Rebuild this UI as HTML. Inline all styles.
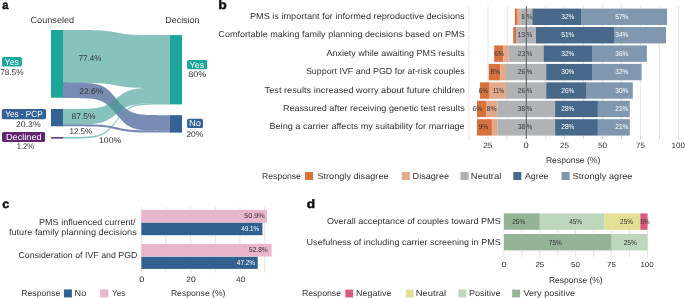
<!DOCTYPE html>
<html><head><meta charset="utf-8"><style>
html,body{margin:0;padding:0;background:#fff;}
svg{display:block;will-change:transform;}
text{font-family:"Liberation Sans", sans-serif;text-rendering:geometricPrecision;}
</style></head><body>
<svg width="685" height="298" viewBox="0 0 685 298">
<rect width="685" height="298" fill="#fff"/>
<text transform="translate(2.35 8.80) scale(0.2500)" font-size="48.00" fill="#111" font-weight="bold" stroke="#111" stroke-width="1.80" textLength="24.40" lengthAdjust="spacingAndGlyphs">a</text>
<text transform="translate(30.50 23.20) scale(0.2500)" font-size="35.20" fill="#333333" font-weight="normal" textLength="174.60" lengthAdjust="spacingAndGlyphs">Counseled</text>
<text transform="translate(165.25 23.20) scale(0.2500)" font-size="35.20" fill="#333333" font-weight="normal" textLength="137.00" lengthAdjust="spacingAndGlyphs">Decision</text>
<g opacity="0.62">
<path d="M62.50,82.61 L63.85,82.61 L65.20,82.62 L66.55,82.62 L67.90,82.62 L69.25,82.63 L70.60,82.64 L71.95,82.64 L73.30,82.65 L74.65,82.67 L76.00,82.68 L77.35,82.70 L78.70,82.72 L80.05,82.75 L81.40,82.78 L82.75,82.82 L84.10,82.87 L85.45,82.92 L86.80,83.00 L88.15,83.08 L89.50,83.19 L90.85,83.31 L92.20,83.47 L93.55,83.65 L94.90,83.88 L96.25,84.15 L97.60,84.47 L98.95,84.85 L100.30,85.31 L101.65,85.85 L103.00,86.49 L104.35,87.22 L105.70,88.08 L107.05,89.05 L108.40,90.15 L109.75,91.37 L111.10,92.71 L112.45,94.15 L113.80,95.68 L115.15,97.28 L116.50,98.90 L117.85,100.52 L119.20,102.12 L120.55,103.65 L121.90,105.09 L123.25,106.43 L124.60,107.65 L125.95,108.75 L127.30,109.72 L128.65,110.58 L130.00,111.31 L131.35,111.95 L132.70,112.49 L134.05,112.95 L135.40,113.33 L136.75,113.65 L138.10,113.92 L139.45,114.15 L140.80,114.33 L142.15,114.49 L143.50,114.61 L144.85,114.72 L146.20,114.80 L147.55,114.88 L148.90,114.93 L150.25,114.98 L151.60,115.02 L152.95,115.05 L154.30,115.08 L155.65,115.10 L157.00,115.12 L158.35,115.13 L159.70,115.15 L161.05,115.16 L162.40,115.16 L163.75,115.17 L165.10,115.18 L166.45,115.18 L167.80,115.18 L169.15,115.19 L170.50,115.19 L170.50,130.69 L169.15,130.69 L167.80,130.68 L166.45,130.68 L165.10,130.68 L163.75,130.67 L162.40,130.66 L161.05,130.66 L159.70,130.65 L158.35,130.63 L157.00,130.62 L155.65,130.60 L154.30,130.58 L152.95,130.55 L151.60,130.52 L150.25,130.48 L148.90,130.43 L147.55,130.37 L146.20,130.30 L144.85,130.22 L143.50,130.11 L142.15,129.98 L140.80,129.83 L139.45,129.64 L138.10,129.42 L136.75,129.15 L135.40,128.83 L134.05,128.44 L132.70,127.98 L131.35,127.44 L130.00,126.80 L128.65,126.06 L127.30,125.21 L125.95,124.23 L124.60,123.13 L123.25,121.91 L121.90,120.56 L120.55,119.11 L119.20,117.58 L117.85,115.98 L116.50,114.35 L115.15,112.72 L113.80,111.12 L112.45,109.59 L111.10,108.14 L109.75,106.79 L108.40,105.57 L107.05,104.47 L105.70,103.49 L104.35,102.64 L103.00,101.90 L101.65,101.26 L100.30,100.72 L98.95,100.26 L97.60,99.87 L96.25,99.55 L94.90,99.28 L93.55,99.06 L92.20,98.87 L90.85,98.72 L89.50,98.59 L88.15,98.48 L86.80,98.40 L85.45,98.33 L84.10,98.27 L82.75,98.22 L81.40,98.18 L80.05,98.15 L78.70,98.12 L77.35,98.10 L76.00,98.08 L74.65,98.07 L73.30,98.05 L71.95,98.04 L70.60,98.04 L69.25,98.03 L67.90,98.02 L66.55,98.02 L65.20,98.02 L63.85,98.01 L62.50,98.01Z" fill="rgb(38,70,134)"/>
<path d="M62.50,124.20 L63.85,124.20 L65.20,124.20 L66.55,124.20 L67.90,124.20 L69.25,124.21 L70.60,124.21 L71.95,124.21 L73.30,124.21 L74.65,124.21 L76.00,124.22 L77.35,124.22 L78.70,124.22 L80.05,124.23 L81.40,124.23 L82.75,124.24 L84.10,124.25 L85.45,124.26 L86.80,124.28 L88.15,124.29 L89.50,124.31 L90.85,124.34 L92.20,124.36 L93.55,124.40 L94.90,124.44 L96.25,124.49 L97.60,124.56 L98.95,124.63 L100.30,124.72 L101.65,124.82 L103.00,124.94 L104.35,125.08 L105.70,125.24 L107.05,125.43 L108.40,125.64 L109.75,125.87 L111.10,126.12 L112.45,126.40 L113.80,126.69 L115.15,126.99 L116.50,127.30 L117.85,127.61 L119.20,127.91 L120.55,128.20 L121.90,128.48 L123.25,128.73 L124.60,128.96 L125.95,129.17 L127.30,129.36 L128.65,129.52 L130.00,129.66 L131.35,129.78 L132.70,129.88 L134.05,129.97 L135.40,130.04 L136.75,130.11 L138.10,130.16 L139.45,130.20 L140.80,130.24 L142.15,130.26 L143.50,130.29 L144.85,130.31 L146.20,130.32 L147.55,130.34 L148.90,130.35 L150.25,130.36 L151.60,130.37 L152.95,130.37 L154.30,130.38 L155.65,130.38 L157.00,130.38 L158.35,130.39 L159.70,130.39 L161.05,130.39 L162.40,130.39 L163.75,130.39 L165.10,130.40 L166.45,130.40 L167.80,130.40 L169.15,130.40 L170.50,130.40 L170.50,132.60 L169.15,132.60 L167.80,132.60 L166.45,132.60 L165.10,132.60 L163.75,132.59 L162.40,132.59 L161.05,132.59 L159.70,132.59 L158.35,132.59 L157.00,132.58 L155.65,132.58 L154.30,132.58 L152.95,132.57 L151.60,132.57 L150.25,132.56 L148.90,132.55 L147.55,132.54 L146.20,132.52 L144.85,132.51 L143.50,132.49 L142.15,132.46 L140.80,132.43 L139.45,132.40 L138.10,132.35 L136.75,132.30 L135.40,132.24 L134.05,132.16 L132.70,132.08 L131.35,131.97 L130.00,131.85 L128.65,131.71 L127.30,131.54 L125.95,131.35 L124.60,131.14 L123.25,130.91 L121.90,130.65 L120.55,130.37 L119.20,130.07 L117.85,129.76 L116.50,129.45 L115.15,129.14 L113.80,128.83 L112.45,128.53 L111.10,128.25 L109.75,127.99 L108.40,127.76 L107.05,127.55 L105.70,127.36 L104.35,127.19 L103.00,127.05 L101.65,126.93 L100.30,126.82 L98.95,126.74 L97.60,126.66 L96.25,126.60 L94.90,126.55 L93.55,126.50 L92.20,126.47 L90.85,126.44 L89.50,126.41 L88.15,126.39 L86.80,126.38 L85.45,126.36 L84.10,126.35 L82.75,126.34 L81.40,126.33 L80.05,126.33 L78.70,126.32 L77.35,126.32 L76.00,126.32 L74.65,126.31 L73.30,126.31 L71.95,126.31 L70.60,126.31 L69.25,126.31 L67.90,126.30 L66.55,126.30 L65.20,126.30 L63.85,126.30 L62.50,126.30Z" fill="rgb(38,70,134)"/>
</g>
<g opacity="0.62">
<path d="M62.50,30.00 L63.85,30.00 L65.20,30.00 L66.55,30.00 L67.90,30.00 L69.25,30.00 L70.60,30.01 L71.95,30.01 L73.30,30.01 L74.65,30.01 L76.00,30.01 L77.35,30.02 L78.70,30.02 L80.05,30.02 L81.40,30.03 L82.75,30.03 L84.10,30.04 L85.45,30.05 L86.80,30.06 L88.15,30.08 L89.50,30.09 L90.85,30.11 L92.20,30.14 L93.55,30.16 L94.90,30.20 L96.25,30.24 L97.60,30.29 L98.95,30.35 L100.30,30.42 L101.65,30.51 L103.00,30.61 L104.35,30.72 L105.70,30.86 L107.05,31.01 L108.40,31.18 L109.75,31.37 L111.10,31.58 L112.45,31.81 L113.80,32.05 L115.15,32.30 L116.50,32.55 L117.85,32.80 L119.20,33.05 L120.55,33.29 L121.90,33.52 L123.25,33.73 L124.60,33.92 L125.95,34.09 L127.30,34.24 L128.65,34.38 L130.00,34.49 L131.35,34.59 L132.70,34.68 L134.05,34.75 L135.40,34.81 L136.75,34.86 L138.10,34.90 L139.45,34.94 L140.80,34.96 L142.15,34.99 L143.50,35.01 L144.85,35.02 L146.20,35.04 L147.55,35.05 L148.90,35.06 L150.25,35.07 L151.60,35.07 L152.95,35.08 L154.30,35.08 L155.65,35.08 L157.00,35.09 L158.35,35.09 L159.70,35.09 L161.05,35.09 L162.40,35.09 L163.75,35.10 L165.10,35.10 L166.45,35.10 L167.80,35.10 L169.15,35.10 L170.50,35.10 L170.50,88.00 L169.15,88.00 L167.80,88.00 L166.45,88.00 L165.10,88.00 L163.75,88.00 L162.40,87.99 L161.05,87.99 L159.70,87.99 L158.35,87.99 L157.00,87.99 L155.65,87.98 L154.30,87.98 L152.95,87.98 L151.60,87.97 L150.25,87.97 L148.90,87.96 L147.55,87.95 L146.20,87.94 L144.85,87.92 L143.50,87.91 L142.15,87.89 L140.80,87.86 L139.45,87.84 L138.10,87.80 L136.75,87.76 L135.40,87.71 L134.05,87.65 L132.70,87.58 L131.35,87.49 L130.00,87.39 L128.65,87.28 L127.30,87.14 L125.95,86.99 L124.60,86.82 L123.25,86.63 L121.90,86.42 L120.55,86.19 L119.20,85.95 L117.85,85.70 L116.50,85.45 L115.15,85.20 L113.80,84.95 L112.45,84.71 L111.10,84.48 L109.75,84.27 L108.40,84.08 L107.05,83.91 L105.70,83.76 L104.35,83.62 L103.00,83.51 L101.65,83.41 L100.30,83.32 L98.95,83.25 L97.60,83.19 L96.25,83.14 L94.90,83.10 L93.55,83.06 L92.20,83.04 L90.85,83.01 L89.50,82.99 L88.15,82.98 L86.80,82.96 L85.45,82.95 L84.10,82.94 L82.75,82.93 L81.40,82.93 L80.05,82.92 L78.70,82.92 L77.35,82.92 L76.00,82.91 L74.65,82.91 L73.30,82.91 L71.95,82.91 L70.60,82.91 L69.25,82.90 L67.90,82.90 L66.55,82.90 L65.20,82.90 L63.85,82.90 L62.50,82.90Z" fill="rgb(63,159,148)"/>
<path d="M62.50,108.99 L63.85,108.99 L65.20,108.99 L66.55,108.99 L67.90,108.98 L69.25,108.98 L70.60,108.98 L71.95,108.97 L73.30,108.96 L74.65,108.96 L76.00,108.95 L77.35,108.94 L78.70,108.92 L80.05,108.90 L81.40,108.88 L82.75,108.86 L84.10,108.83 L85.45,108.79 L86.80,108.74 L88.15,108.69 L89.50,108.62 L90.85,108.53 L92.20,108.43 L93.55,108.31 L94.90,108.17 L96.25,107.99 L97.60,107.78 L98.95,107.53 L100.30,107.23 L101.65,106.88 L103.00,106.46 L104.35,105.98 L105.70,105.42 L107.05,104.79 L108.40,104.07 L109.75,103.27 L111.10,102.40 L112.45,101.45 L113.80,100.45 L115.15,99.41 L116.50,98.35 L117.85,97.29 L119.20,96.25 L120.55,95.25 L121.90,94.30 L123.25,93.43 L124.60,92.63 L125.95,91.91 L127.30,91.28 L128.65,90.72 L130.00,90.24 L131.35,89.82 L132.70,89.47 L134.05,89.17 L135.40,88.92 L136.75,88.71 L138.10,88.53 L139.45,88.39 L140.80,88.27 L142.15,88.17 L143.50,88.08 L144.85,88.01 L146.20,87.96 L147.55,87.91 L148.90,87.87 L150.25,87.84 L151.60,87.82 L152.95,87.80 L154.30,87.78 L155.65,87.76 L157.00,87.75 L158.35,87.74 L159.70,87.74 L161.05,87.73 L162.40,87.72 L163.75,87.72 L165.10,87.72 L166.45,87.71 L167.80,87.71 L169.15,87.71 L170.50,87.71 L170.50,103.21 L169.15,103.21 L167.80,103.21 L166.45,103.21 L165.10,103.22 L163.75,103.22 L162.40,103.22 L161.05,103.23 L159.70,103.24 L158.35,103.24 L157.00,103.25 L155.65,103.26 L154.30,103.28 L152.95,103.30 L151.60,103.32 L150.25,103.34 L148.90,103.37 L147.55,103.41 L146.20,103.46 L144.85,103.51 L143.50,103.58 L142.15,103.67 L140.80,103.77 L139.45,103.89 L138.10,104.03 L136.75,104.21 L135.40,104.42 L134.05,104.67 L132.70,104.97 L131.35,105.32 L130.00,105.74 L128.65,106.22 L127.30,106.78 L125.95,107.41 L124.60,108.13 L123.25,108.93 L121.90,109.80 L120.55,110.75 L119.20,111.75 L117.85,112.79 L116.50,113.85 L115.15,114.91 L113.80,115.95 L112.45,116.95 L111.10,117.90 L109.75,118.77 L108.40,119.57 L107.05,120.29 L105.70,120.92 L104.35,121.48 L103.00,121.96 L101.65,122.38 L100.30,122.73 L98.95,123.03 L97.60,123.28 L96.25,123.49 L94.90,123.67 L93.55,123.81 L92.20,123.93 L90.85,124.03 L89.50,124.12 L88.15,124.19 L86.80,124.24 L85.45,124.29 L84.10,124.33 L82.75,124.36 L81.40,124.38 L80.05,124.40 L78.70,124.42 L77.35,124.44 L76.00,124.45 L74.65,124.46 L73.30,124.46 L71.95,124.47 L70.60,124.48 L69.25,124.48 L67.90,124.48 L66.55,124.49 L65.20,124.49 L63.85,124.49 L62.50,124.49Z" fill="rgb(63,159,148)"/>
<path d="M62.50,137.09 L63.85,137.09 L65.20,137.08 L66.55,137.08 L67.90,137.07 L69.25,137.07 L70.60,137.06 L71.95,137.05 L73.30,137.04 L74.65,137.03 L76.00,137.02 L77.35,137.00 L78.70,136.97 L80.05,136.95 L81.40,136.91 L82.75,136.87 L84.10,136.82 L85.45,136.76 L86.80,136.69 L88.15,136.59 L89.50,136.48 L90.85,136.35 L92.20,136.19 L93.55,136.00 L94.90,135.76 L96.25,135.48 L97.60,135.14 L98.95,134.74 L100.30,134.26 L101.65,133.69 L103.00,133.02 L104.35,132.25 L105.70,131.36 L107.05,130.33 L108.40,129.18 L109.75,127.90 L111.10,126.50 L112.45,124.98 L113.80,123.38 L115.15,121.70 L116.50,120.00 L117.85,118.30 L119.20,116.62 L120.55,115.02 L121.90,113.50 L123.25,112.10 L124.60,110.82 L125.95,109.67 L127.30,108.64 L128.65,107.75 L130.00,106.98 L131.35,106.31 L132.70,105.74 L134.05,105.26 L135.40,104.86 L136.75,104.52 L138.10,104.24 L139.45,104.00 L140.80,103.81 L142.15,103.65 L143.50,103.52 L144.85,103.41 L146.20,103.31 L147.55,103.24 L148.90,103.18 L150.25,103.13 L151.60,103.09 L152.95,103.05 L154.30,103.03 L155.65,103.00 L157.00,102.98 L158.35,102.97 L159.70,102.96 L161.05,102.95 L162.40,102.94 L163.75,102.93 L165.10,102.93 L166.45,102.92 L167.80,102.92 L169.15,102.91 L170.50,102.91 L170.50,104.41 L169.15,104.41 L167.80,104.42 L166.45,104.42 L165.10,104.43 L163.75,104.43 L162.40,104.44 L161.05,104.45 L159.70,104.46 L158.35,104.47 L157.00,104.48 L155.65,104.50 L154.30,104.53 L152.95,104.55 L151.60,104.59 L150.25,104.63 L148.90,104.68 L147.55,104.74 L146.20,104.81 L144.85,104.91 L143.50,105.02 L142.15,105.15 L140.80,105.31 L139.45,105.50 L138.10,105.74 L136.75,106.02 L135.40,106.36 L134.05,106.76 L132.70,107.24 L131.35,107.81 L130.00,108.48 L128.65,109.25 L127.30,110.14 L125.95,111.17 L124.60,112.32 L123.25,113.60 L121.90,115.00 L120.55,116.52 L119.20,118.12 L117.85,119.80 L116.50,121.50 L115.15,123.20 L113.80,124.88 L112.45,126.48 L111.10,128.00 L109.75,129.40 L108.40,130.68 L107.05,131.83 L105.70,132.86 L104.35,133.75 L103.00,134.52 L101.65,135.19 L100.30,135.76 L98.95,136.24 L97.60,136.64 L96.25,136.98 L94.90,137.26 L93.55,137.50 L92.20,137.69 L90.85,137.85 L89.50,137.98 L88.15,138.09 L86.80,138.19 L85.45,138.26 L84.10,138.32 L82.75,138.37 L81.40,138.41 L80.05,138.45 L78.70,138.47 L77.35,138.50 L76.00,138.52 L74.65,138.53 L73.30,138.54 L71.95,138.55 L70.60,138.56 L69.25,138.57 L67.90,138.57 L66.55,138.58 L65.20,138.58 L63.85,138.59 L62.50,138.59Z" fill="rgb(63,159,148)"/>
</g>
<rect x="51.00" y="30.00" width="12.00" height="67.70" fill="#1ca59b" />
<rect x="51.00" y="109.00" width="12.00" height="17.30" fill="#346294" />
<rect x="51.00" y="137.10" width="12.00" height="1.50" fill="#622670" />
<rect x="170.00" y="35.10" width="12.00" height="69.30" fill="#1ca59b" />
<rect x="170.00" y="115.20" width="12.00" height="17.40" fill="#346294" />
<rect x="2" y="57.0" width="19.90" height="9.40" rx="1.7" fill="#1ca59b"/>
<text transform="translate(4.60 64.60) scale(0.2500)" font-size="35.20" fill="#fff" font-weight="normal" textLength="57.20" lengthAdjust="spacingAndGlyphs">Yes</text>
<text transform="translate(0.15 75.00) scale(0.2500)" font-size="32.80" fill="#333333" font-weight="normal" textLength="93.60" lengthAdjust="spacingAndGlyphs">78.5%</text>
<rect x="1.8" y="108.9" width="44.20" height="10.40" rx="1.7" fill="#346294"/>
<text transform="translate(5.25 116.90) scale(0.2500)" font-size="35.20" fill="#fff" font-weight="normal" textLength="149.80" lengthAdjust="spacingAndGlyphs">Yes - PCP</text>
<text transform="translate(16.00 126.70) scale(0.2500)" font-size="32.80" fill="#333333" font-weight="normal" textLength="98.80" lengthAdjust="spacingAndGlyphs">20.3%</text>
<rect x="2" y="131.9" width="43.10" height="10.00" rx="1.7" fill="#622670"/>
<text transform="translate(5.95 139.70) scale(0.2500)" font-size="35.20" fill="#fff" font-weight="normal" textLength="142.80" lengthAdjust="spacingAndGlyphs">Declined</text>
<text transform="translate(16.70 148.50) scale(0.2500)" font-size="32.80" fill="#333333" font-weight="normal" textLength="70.00" lengthAdjust="spacingAndGlyphs">1.2%</text>
<rect x="187.1" y="59.9" width="20.00" height="9.30" rx="1.7" fill="#1ca59b"/>
<text transform="translate(189.60 67.50) scale(0.2500)" font-size="35.20" fill="#fff" font-weight="normal" textLength="58.60" lengthAdjust="spacingAndGlyphs">Yes</text>
<text transform="translate(188.30 77.40) scale(0.2500)" font-size="32.80" fill="#333333" font-weight="normal" textLength="72.20" lengthAdjust="spacingAndGlyphs">80%</text>
<rect x="187.1" y="118.80000000000001" width="15.90" height="9.30" rx="1.7" fill="#346294"/>
<text transform="translate(189.10 126.00) scale(0.2500)" font-size="35.20" fill="#fff" font-weight="normal" textLength="47.60" lengthAdjust="spacingAndGlyphs">No</text>
<text transform="translate(186.45 137.30) scale(0.2500)" font-size="32.80" fill="#333333" font-weight="normal" textLength="67.20" lengthAdjust="spacingAndGlyphs">20%</text>
<text transform="translate(78.45 61.40) scale(0.2500)" font-size="32.80" fill="#333333" font-weight="normal" textLength="91.80" lengthAdjust="spacingAndGlyphs">77.4%</text>
<text transform="translate(79.15 93.90) scale(0.2500)" font-size="32.80" fill="#333333" font-weight="normal" textLength="97.00" lengthAdjust="spacingAndGlyphs">22.6%</text>
<text transform="translate(71.45 119.40) scale(0.2500)" font-size="32.80" fill="#333333" font-weight="normal" textLength="96.40" lengthAdjust="spacingAndGlyphs">87.5%</text>
<text transform="translate(69.40 133.50) scale(0.2500)" font-size="32.80" fill="#333333" font-weight="normal" textLength="91.40" lengthAdjust="spacingAndGlyphs">12.5%</text>
<text transform="translate(98.90 142.70) scale(0.2500)" font-size="32.80" fill="#333333" font-weight="normal" textLength="89.80" lengthAdjust="spacingAndGlyphs">100%</text>
<text transform="translate(218.35 9.10) scale(0.2500)" font-size="48.00" fill="#111" font-weight="bold" stroke="#111" stroke-width="1.80" textLength="34.00" lengthAdjust="spacingAndGlyphs">b</text>
<line x1="468.80" y1="6.00" x2="468.80" y2="136.50" stroke="#e6e6e6" stroke-width="1"/>
<line x1="468.80" y1="136.50" x2="468.80" y2="139.00" stroke="#d0d0d0" stroke-width="1"/>
<line x1="488.00" y1="6.00" x2="488.00" y2="136.50" stroke="#e6e6e6" stroke-width="1"/>
<line x1="488.00" y1="136.50" x2="488.00" y2="139.00" stroke="#d0d0d0" stroke-width="1"/>
<line x1="507.30" y1="6.00" x2="507.30" y2="136.50" stroke="#e6e6e6" stroke-width="1"/>
<line x1="507.30" y1="136.50" x2="507.30" y2="139.00" stroke="#d0d0d0" stroke-width="1"/>
<line x1="545.40" y1="6.00" x2="545.40" y2="136.50" stroke="#e6e6e6" stroke-width="1"/>
<line x1="545.40" y1="136.50" x2="545.40" y2="139.00" stroke="#d0d0d0" stroke-width="1"/>
<line x1="564.50" y1="6.00" x2="564.50" y2="136.50" stroke="#e6e6e6" stroke-width="1"/>
<line x1="564.50" y1="136.50" x2="564.50" y2="139.00" stroke="#d0d0d0" stroke-width="1"/>
<line x1="583.50" y1="6.00" x2="583.50" y2="136.50" stroke="#e6e6e6" stroke-width="1"/>
<line x1="583.50" y1="136.50" x2="583.50" y2="139.00" stroke="#d0d0d0" stroke-width="1"/>
<line x1="602.50" y1="6.00" x2="602.50" y2="136.50" stroke="#e6e6e6" stroke-width="1"/>
<line x1="602.50" y1="136.50" x2="602.50" y2="139.00" stroke="#d0d0d0" stroke-width="1"/>
<line x1="621.50" y1="6.00" x2="621.50" y2="136.50" stroke="#e6e6e6" stroke-width="1"/>
<line x1="621.50" y1="136.50" x2="621.50" y2="139.00" stroke="#d0d0d0" stroke-width="1"/>
<line x1="640.60" y1="6.00" x2="640.60" y2="136.50" stroke="#e6e6e6" stroke-width="1"/>
<line x1="640.60" y1="136.50" x2="640.60" y2="139.00" stroke="#d0d0d0" stroke-width="1"/>
<line x1="659.50" y1="6.00" x2="659.50" y2="136.50" stroke="#e6e6e6" stroke-width="1"/>
<line x1="659.50" y1="136.50" x2="659.50" y2="139.00" stroke="#d0d0d0" stroke-width="1"/>
<line x1="678.60" y1="6.00" x2="678.60" y2="136.50" stroke="#e6e6e6" stroke-width="1"/>
<line x1="678.60" y1="136.50" x2="678.60" y2="139.00" stroke="#d0d0d0" stroke-width="1"/>
<rect x="514.90" y="8.60" width="2.10" height="16.40" fill="#d9713e" />
<rect x="517.00" y="8.60" width="3.30" height="16.40" fill="#e2aa8b" />
<rect x="520.30" y="8.60" width="12.00" height="16.40" fill="#b1b2b4" />
<rect x="532.30" y="8.60" width="48.70" height="16.40" fill="#476889" />
<rect x="581.00" y="8.60" width="86.10" height="16.40" fill="#7f98b0" />
<rect x="513.20" y="27.03" width="2.90" height="16.40" fill="#d9713e" />
<rect x="516.10" y="27.03" width="19.90" height="16.40" fill="#b1b2b4" />
<rect x="536.00" y="27.03" width="78.00" height="16.40" fill="#476889" />
<rect x="614.00" y="27.03" width="52.00" height="16.40" fill="#7f98b0" />
<rect x="494.20" y="45.46" width="9.10" height="16.40" fill="#d9713e" />
<rect x="503.30" y="45.46" width="5.50" height="16.40" fill="#e2aa8b" />
<rect x="508.80" y="45.46" width="34.80" height="16.40" fill="#b1b2b4" />
<rect x="543.60" y="45.46" width="48.40" height="16.40" fill="#476889" />
<rect x="592.00" y="45.46" width="54.90" height="16.40" fill="#7f98b0" />
<rect x="488.70" y="63.89" width="11.50" height="16.40" fill="#d9713e" />
<rect x="500.20" y="63.89" width="5.80" height="16.40" fill="#e2aa8b" />
<rect x="506.00" y="63.89" width="40.20" height="16.40" fill="#b1b2b4" />
<rect x="546.20" y="63.89" width="45.80" height="16.40" fill="#476889" />
<rect x="592.00" y="63.89" width="49.60" height="16.40" fill="#7f98b0" />
<rect x="479.90" y="82.32" width="9.10" height="16.40" fill="#d9713e" />
<rect x="489.00" y="82.32" width="17.00" height="16.40" fill="#e2aa8b" />
<rect x="506.00" y="82.32" width="40.20" height="16.40" fill="#b1b2b4" />
<rect x="546.20" y="82.32" width="40.50" height="16.40" fill="#476889" />
<rect x="586.70" y="82.32" width="46.10" height="16.40" fill="#7f98b0" />
<rect x="477.00" y="100.75" width="9.00" height="16.40" fill="#d9713e" />
<rect x="486.00" y="100.75" width="11.30" height="16.40" fill="#e2aa8b" />
<rect x="497.30" y="100.75" width="57.80" height="16.40" fill="#b1b2b4" />
<rect x="555.10" y="100.75" width="42.80" height="16.40" fill="#476889" />
<rect x="597.90" y="100.75" width="31.90" height="16.40" fill="#7f98b0" />
<rect x="477.00" y="119.18" width="14.90" height="16.40" fill="#d9713e" />
<rect x="491.90" y="119.18" width="5.40" height="16.40" fill="#e2aa8b" />
<rect x="497.30" y="119.18" width="57.80" height="16.40" fill="#b1b2b4" />
<rect x="555.10" y="119.18" width="42.80" height="16.40" fill="#476889" />
<rect x="597.90" y="119.18" width="31.90" height="16.40" fill="#7f98b0" />
<text transform="translate(249.90 18.80) scale(0.2500)" font-size="34.40" fill="#333333" font-weight="normal" textLength="859.20" lengthAdjust="spacingAndGlyphs">PMS is important for informed reproductive decisions</text>
<text transform="translate(218.35 37.23) scale(0.2500)" font-size="34.40" fill="#333333" font-weight="normal" textLength="985.40" lengthAdjust="spacingAndGlyphs">Comfortable making family planning decisions based on PMS</text>
<text transform="translate(326.50 55.66) scale(0.2500)" font-size="34.40" fill="#333333" font-weight="normal" textLength="552.80" lengthAdjust="spacingAndGlyphs">Anxiety while awaiting PMS results</text>
<text transform="translate(305.95 74.09) scale(0.2500)" font-size="34.40" fill="#333333" font-weight="normal" textLength="635.00" lengthAdjust="spacingAndGlyphs">Support IVF and PGD for at-risk couples</text>
<text transform="translate(264.60 92.52) scale(0.2500)" font-size="34.40" fill="#333333" font-weight="normal" textLength="801.40" lengthAdjust="spacingAndGlyphs">Test results increased worry about future children</text>
<text transform="translate(282.90 110.95) scale(0.2500)" font-size="34.40" fill="#333333" font-weight="normal" textLength="727.20" lengthAdjust="spacingAndGlyphs">Reassured after receiving genetic test results</text>
<text transform="translate(269.45 129.38) scale(0.2500)" font-size="34.40" fill="#333333" font-weight="normal" textLength="781.00" lengthAdjust="spacingAndGlyphs">Being a carrier affects my suitability for marriage</text>
<text transform="translate(521.40 18.85) scale(0.2500)" font-size="28.80" fill="#333333" font-weight="normal" textLength="12.20" lengthAdjust="spacingAndGlyphs">8</text>
<text transform="translate(526.75 18.85) scale(0.2500)" font-size="28.80" fill="#333333" font-weight="normal" textLength="22.00" lengthAdjust="spacingAndGlyphs">%</text>
<text transform="translate(561.30 18.85) scale(0.2500)" font-size="28.80" fill="#fff" font-weight="normal" textLength="52.60" lengthAdjust="spacingAndGlyphs">32%</text>
<text transform="translate(615.30 18.85) scale(0.2500)" font-size="28.80" fill="#fff" font-weight="normal" textLength="52.60" lengthAdjust="spacingAndGlyphs">57%</text>
<text transform="translate(517.50 37.28) scale(0.2500)" font-size="28.80" fill="#333333" font-weight="normal" textLength="30.40" lengthAdjust="spacingAndGlyphs">13</text>
<text transform="translate(526.75 37.28) scale(0.2500)" font-size="28.80" fill="#333333" font-weight="normal" textLength="22.00" lengthAdjust="spacingAndGlyphs">%</text>
<text transform="translate(561.30 37.28) scale(0.2500)" font-size="28.80" fill="#fff" font-weight="normal" textLength="52.60" lengthAdjust="spacingAndGlyphs">51%</text>
<text transform="translate(615.30 37.28) scale(0.2500)" font-size="28.80" fill="#fff" font-weight="normal" textLength="52.60" lengthAdjust="spacingAndGlyphs">34%</text>
<text transform="translate(517.75 55.71) scale(0.2500)" font-size="28.80" fill="#333333" font-weight="normal" textLength="29.40" lengthAdjust="spacingAndGlyphs">23</text>
<text transform="translate(526.75 55.71) scale(0.2500)" font-size="28.80" fill="#333333" font-weight="normal" textLength="22.00" lengthAdjust="spacingAndGlyphs">%</text>
<text transform="translate(561.30 55.71) scale(0.2500)" font-size="28.80" fill="#fff" font-weight="normal" textLength="52.60" lengthAdjust="spacingAndGlyphs">32%</text>
<text transform="translate(615.30 55.71) scale(0.2500)" font-size="28.80" fill="#fff" font-weight="normal" textLength="52.60" lengthAdjust="spacingAndGlyphs">36%</text>
<text transform="translate(494.25 55.71) scale(0.2500)" font-size="28.80" fill="#333333" font-weight="normal" textLength="38.00" lengthAdjust="spacingAndGlyphs">6%</text>
<text transform="translate(517.75 74.14) scale(0.2500)" font-size="28.80" fill="#333333" font-weight="normal" textLength="29.40" lengthAdjust="spacingAndGlyphs">26</text>
<text transform="translate(526.75 74.14) scale(0.2500)" font-size="28.80" fill="#333333" font-weight="normal" textLength="22.00" lengthAdjust="spacingAndGlyphs">%</text>
<text transform="translate(561.30 74.14) scale(0.2500)" font-size="28.80" fill="#fff" font-weight="normal" textLength="52.60" lengthAdjust="spacingAndGlyphs">30%</text>
<text transform="translate(615.30 74.14) scale(0.2500)" font-size="28.80" fill="#fff" font-weight="normal" textLength="52.60" lengthAdjust="spacingAndGlyphs">32%</text>
<text transform="translate(490.60 74.14) scale(0.2500)" font-size="28.80" fill="#333333" font-weight="normal" textLength="38.00" lengthAdjust="spacingAndGlyphs">8%</text>
<text transform="translate(517.75 92.57) scale(0.2500)" font-size="28.80" fill="#333333" font-weight="normal" textLength="29.40" lengthAdjust="spacingAndGlyphs">26</text>
<text transform="translate(526.75 92.57) scale(0.2500)" font-size="28.80" fill="#333333" font-weight="normal" textLength="22.00" lengthAdjust="spacingAndGlyphs">%</text>
<text transform="translate(561.30 92.57) scale(0.2500)" font-size="28.80" fill="#fff" font-weight="normal" textLength="52.60" lengthAdjust="spacingAndGlyphs">26%</text>
<text transform="translate(615.30 92.57) scale(0.2500)" font-size="28.80" fill="#fff" font-weight="normal" textLength="52.60" lengthAdjust="spacingAndGlyphs">30%</text>
<text transform="translate(478.60 92.57) scale(0.2500)" font-size="28.80" fill="#333333" font-weight="normal" textLength="38.00" lengthAdjust="spacingAndGlyphs">6%</text>
<text transform="translate(492.90 92.57) scale(0.2500)" font-size="28.80" fill="#333333" font-weight="normal" textLength="45.00" lengthAdjust="spacingAndGlyphs">11%</text>
<text transform="translate(517.75 111.00) scale(0.2500)" font-size="28.80" fill="#333333" font-weight="normal" textLength="29.40" lengthAdjust="spacingAndGlyphs">38</text>
<text transform="translate(526.75 111.00) scale(0.2500)" font-size="28.80" fill="#333333" font-weight="normal" textLength="22.00" lengthAdjust="spacingAndGlyphs">%</text>
<text transform="translate(561.30 111.00) scale(0.2500)" font-size="28.80" fill="#fff" font-weight="normal" textLength="52.60" lengthAdjust="spacingAndGlyphs">28%</text>
<text transform="translate(615.30 111.00) scale(0.2500)" font-size="28.80" fill="#fff" font-weight="normal" textLength="52.60" lengthAdjust="spacingAndGlyphs">21%</text>
<text transform="translate(472.60 111.00) scale(0.2500)" font-size="28.80" fill="#333333" font-weight="normal" textLength="38.00" lengthAdjust="spacingAndGlyphs">6%</text>
<text transform="translate(486.80 111.00) scale(0.2500)" font-size="28.80" fill="#333333" font-weight="normal" textLength="39.00" lengthAdjust="spacingAndGlyphs">8%</text>
<text transform="translate(517.75 129.43) scale(0.2500)" font-size="28.80" fill="#333333" font-weight="normal" textLength="29.40" lengthAdjust="spacingAndGlyphs">38</text>
<text transform="translate(526.75 129.43) scale(0.2500)" font-size="28.80" fill="#333333" font-weight="normal" textLength="22.00" lengthAdjust="spacingAndGlyphs">%</text>
<text transform="translate(561.30 129.43) scale(0.2500)" font-size="28.80" fill="#fff" font-weight="normal" textLength="52.60" lengthAdjust="spacingAndGlyphs">28%</text>
<text transform="translate(615.30 129.43) scale(0.2500)" font-size="28.80" fill="#fff" font-weight="normal" textLength="52.60" lengthAdjust="spacingAndGlyphs">21%</text>
<text transform="translate(478.45 129.43) scale(0.2500)" font-size="28.80" fill="#333333" font-weight="normal" textLength="39.00" lengthAdjust="spacingAndGlyphs">9%</text>
<line x1="526.30" y1="6.00" x2="526.30" y2="139.00" stroke="#5a5a5a" stroke-width="1"/>
<text transform="translate(262.10 178.80) scale(0.2500)" font-size="34.40" fill="#333333" font-weight="normal" textLength="155.20" lengthAdjust="spacingAndGlyphs">Response</text>
<rect x="305.10" y="172.00" width="8.00" height="8.00" fill="#d9713e" />
<text transform="translate(317.45 178.80) scale(0.2500)" font-size="34.40" fill="#333333" font-weight="normal" textLength="284.40" lengthAdjust="spacingAndGlyphs">Strongly disagree</text>
<rect x="401.90" y="172.00" width="8.00" height="8.00" fill="#e2aa8b" />
<text transform="translate(412.60 178.80) scale(0.2500)" font-size="34.40" fill="#333333" font-weight="normal" textLength="145.60" lengthAdjust="spacingAndGlyphs">Disagree</text>
<rect x="460.50" y="172.00" width="8.00" height="8.00" fill="#b1b2b4" />
<text transform="translate(470.75 178.80) scale(0.2500)" font-size="34.40" fill="#333333" font-weight="normal" textLength="122.80" lengthAdjust="spacingAndGlyphs">Neutral</text>
<rect x="513.30" y="172.00" width="8.00" height="8.00" fill="#476889" />
<text transform="translate(524.90 178.80) scale(0.2500)" font-size="34.40" fill="#333333" font-weight="normal" textLength="94.40" lengthAdjust="spacingAndGlyphs">Agree</text>
<rect x="561.60" y="172.00" width="8.00" height="8.00" fill="#7f98b0" />
<text transform="translate(572.50 178.80) scale(0.2500)" font-size="34.40" fill="#333333" font-weight="normal" textLength="240.00" lengthAdjust="spacingAndGlyphs">Strongly agree</text>
<text transform="translate(483.25 147.90) scale(0.2500)" font-size="31.20" fill="#333333" font-weight="normal" textLength="36.80" lengthAdjust="spacingAndGlyphs">25</text>
<text transform="translate(523.40 147.90) scale(0.2500)" font-size="31.20" fill="#333333" font-weight="normal" textLength="20.80" lengthAdjust="spacingAndGlyphs">0</text>
<text transform="translate(560.05 147.90) scale(0.2500)" font-size="31.20" fill="#333333" font-weight="normal" textLength="35.80" lengthAdjust="spacingAndGlyphs">25</text>
<text transform="translate(597.90 147.90) scale(0.2500)" font-size="31.20" fill="#333333" font-weight="normal" textLength="36.80" lengthAdjust="spacingAndGlyphs">50</text>
<text transform="translate(636.05 147.90) scale(0.2500)" font-size="31.20" fill="#333333" font-weight="normal" textLength="35.80" lengthAdjust="spacingAndGlyphs">75</text>
<text transform="translate(671.50 147.90) scale(0.2500)" font-size="31.20" fill="#333333" font-weight="normal" textLength="53.60" lengthAdjust="spacingAndGlyphs">100</text>
<text transform="translate(545.90 162.70) scale(0.2500)" font-size="34.40" fill="#333333" font-weight="normal" textLength="217.80" lengthAdjust="spacingAndGlyphs">Response (%)</text>
<text transform="translate(2.25 208.30) scale(0.2500)" font-size="48.00" fill="#111" font-weight="bold" stroke="#111" stroke-width="1.80" textLength="28.20" lengthAdjust="spacingAndGlyphs">c</text>
<line x1="141.40" y1="206.60" x2="141.40" y2="272.30" stroke="#e6e6e6" stroke-width="1"/>
<line x1="166.05" y1="206.60" x2="166.05" y2="272.30" stroke="#e6e6e6" stroke-width="1"/>
<line x1="190.70" y1="206.60" x2="190.70" y2="272.30" stroke="#e6e6e6" stroke-width="1"/>
<line x1="215.35" y1="206.60" x2="215.35" y2="272.30" stroke="#e6e6e6" stroke-width="1"/>
<line x1="240.00" y1="206.60" x2="240.00" y2="272.30" stroke="#e6e6e6" stroke-width="1"/>
<line x1="264.65" y1="206.60" x2="264.65" y2="272.30" stroke="#e6e6e6" stroke-width="1"/>
<rect x="141.40" y="209.90" width="125.47" height="12.80" fill="#e9b5ca" />
<rect x="141.40" y="222.80" width="121.03" height="12.40" fill="#32618f" />
<rect x="141.40" y="243.90" width="130.15" height="12.60" fill="#e9b5ca" />
<rect x="141.40" y="256.80" width="116.35" height="12.10" fill="#32618f" />
<text transform="translate(244.15 218.10) scale(0.2500)" font-size="28.80" fill="#333333" font-weight="normal" textLength="81.60" lengthAdjust="spacingAndGlyphs">50.9%</text>
<text transform="translate(241.25 231.00) scale(0.2500)" font-size="28.80" fill="#fff" font-weight="normal" textLength="72.00" lengthAdjust="spacingAndGlyphs">49.1%</text>
<text transform="translate(248.95 252.20) scale(0.2500)" font-size="28.80" fill="#333333" font-weight="normal" textLength="75.20" lengthAdjust="spacingAndGlyphs">52.8%</text>
<text transform="translate(236.85 265.00) scale(0.2500)" font-size="28.80" fill="#fff" font-weight="normal" textLength="72.40" lengthAdjust="spacingAndGlyphs">47.2%</text>
<text transform="translate(39.05 225.00) scale(0.2500)" font-size="34.40" fill="#333333" font-weight="normal" textLength="385.60" lengthAdjust="spacingAndGlyphs">PMS influenced current/</text>
<text transform="translate(8.90 234.90) scale(0.2500)" font-size="34.40" fill="#333333" font-weight="normal" textLength="511.40" lengthAdjust="spacingAndGlyphs">future family planning decisions</text>
<text transform="translate(18.45 257.90) scale(0.2500)" font-size="34.40" fill="#333333" font-weight="normal" textLength="475.60" lengthAdjust="spacingAndGlyphs">Consideration of IVF and PGD</text>
<text transform="translate(139.30 282.00) scale(0.2500)" font-size="31.20" fill="#333333" font-weight="normal" textLength="20.40" lengthAdjust="spacingAndGlyphs">0</text>
<text transform="translate(186.30 282.00) scale(0.2500)" font-size="31.20" fill="#333333" font-weight="normal" textLength="38.20" lengthAdjust="spacingAndGlyphs">20</text>
<text transform="translate(236.05 282.00) scale(0.2500)" font-size="31.20" fill="#333333" font-weight="normal" textLength="36.80" lengthAdjust="spacingAndGlyphs">40</text>
<text transform="translate(170.90 296.00) scale(0.2500)" font-size="34.40" fill="#333333" font-weight="normal" textLength="218.20" lengthAdjust="spacingAndGlyphs">Response (%)</text>
<text transform="translate(21.20 296.00) scale(0.2500)" font-size="34.40" fill="#333333" font-weight="normal" textLength="156.80" lengthAdjust="spacingAndGlyphs">Response</text>
<rect x="63.90" y="289.40" width="8.00" height="8.00" fill="#32618f" />
<text transform="translate(74.55 296.00) scale(0.2500)" font-size="34.40" fill="#333333" font-weight="normal" textLength="46.60" lengthAdjust="spacingAndGlyphs">No</text>
<rect x="100.10" y="289.40" width="8.20" height="8.00" fill="#e9b5ca" />
<text transform="translate(112.10 296.00) scale(0.2500)" font-size="34.40" fill="#333333" font-weight="normal" textLength="53.20" lengthAdjust="spacingAndGlyphs">Yes</text>
<text transform="translate(306.75 208.30) scale(0.2500)" font-size="48.00" fill="#111" font-weight="bold" stroke="#111" stroke-width="1.80" textLength="33.40" lengthAdjust="spacingAndGlyphs">d</text>
<line x1="503.90" y1="213.40" x2="503.90" y2="257.50" stroke="#e6e6e6" stroke-width="1"/>
<line x1="521.85" y1="213.40" x2="521.85" y2="257.50" stroke="#e6e6e6" stroke-width="1"/>
<line x1="539.80" y1="213.40" x2="539.80" y2="257.50" stroke="#e6e6e6" stroke-width="1"/>
<line x1="557.75" y1="213.40" x2="557.75" y2="257.50" stroke="#e6e6e6" stroke-width="1"/>
<line x1="575.70" y1="213.40" x2="575.70" y2="257.50" stroke="#e6e6e6" stroke-width="1"/>
<line x1="593.65" y1="213.40" x2="593.65" y2="257.50" stroke="#e6e6e6" stroke-width="1"/>
<line x1="611.60" y1="213.40" x2="611.60" y2="257.50" stroke="#e6e6e6" stroke-width="1"/>
<line x1="629.55" y1="213.40" x2="629.55" y2="257.50" stroke="#e6e6e6" stroke-width="1"/>
<line x1="647.50" y1="213.40" x2="647.50" y2="257.50" stroke="#e6e6e6" stroke-width="1"/>
<rect x="503.90" y="213.40" width="35.90" height="16.40" fill="#94b495" />
<rect x="539.80" y="213.40" width="64.62" height="16.40" fill="#bcd7bb" />
<rect x="604.42" y="213.40" width="35.90" height="16.40" fill="#e3df95" />
<rect x="640.32" y="213.40" width="7.18" height="16.40" fill="#d95a7c" />
<rect x="503.90" y="234.00" width="107.70" height="16.40" fill="#94b495" />
<rect x="611.60" y="234.00" width="35.90" height="16.40" fill="#bcd7bb" />
<text transform="translate(512.15 223.80) scale(0.2500)" font-size="28.80" fill="#333333" font-weight="normal" textLength="52.40" lengthAdjust="spacingAndGlyphs">25%</text>
<text transform="translate(569.20 223.80) scale(0.2500)" font-size="28.80" fill="#333333" font-weight="normal" textLength="51.40" lengthAdjust="spacingAndGlyphs">45%</text>
<text transform="translate(620.10 223.80) scale(0.2500)" font-size="28.80" fill="#333333" font-weight="normal" textLength="51.40" lengthAdjust="spacingAndGlyphs">25%</text>
<text transform="translate(640.45 223.80) scale(0.2500)" font-size="28.80" fill="#333333" font-weight="normal" textLength="36.40" lengthAdjust="spacingAndGlyphs">5%</text>
<text transform="translate(548.80 245.10) scale(0.2500)" font-size="28.80" fill="#333333" font-weight="normal" textLength="52.40" lengthAdjust="spacingAndGlyphs">75%</text>
<text transform="translate(623.65 245.10) scale(0.2500)" font-size="28.80" fill="#333333" font-weight="normal" textLength="52.40" lengthAdjust="spacingAndGlyphs">25%</text>
<text transform="translate(326.95 224.20) scale(0.2500)" font-size="34.40" fill="#333333" font-weight="normal" textLength="695.00" lengthAdjust="spacingAndGlyphs">Overall acceptance of couples toward PMS</text>
<text transform="translate(306.60 245.20) scale(0.2500)" font-size="34.40" fill="#333333" font-weight="normal" textLength="776.40" lengthAdjust="spacingAndGlyphs">Usefulness of including carrier screening in PMS</text>
<text transform="translate(501.45 267.20) scale(0.2500)" font-size="28.80" fill="#333333" font-weight="normal" textLength="20.40" lengthAdjust="spacingAndGlyphs">0</text>
<text transform="translate(535.45 267.20) scale(0.2500)" font-size="28.80" fill="#333333" font-weight="normal" textLength="35.20" lengthAdjust="spacingAndGlyphs">25</text>
<text transform="translate(571.00 267.20) scale(0.2500)" font-size="28.80" fill="#333333" font-weight="normal" textLength="36.20" lengthAdjust="spacingAndGlyphs">50</text>
<text transform="translate(607.10 267.20) scale(0.2500)" font-size="28.80" fill="#333333" font-weight="normal" textLength="35.20" lengthAdjust="spacingAndGlyphs">75</text>
<text transform="translate(640.40 267.20) scale(0.2500)" font-size="28.80" fill="#333333" font-weight="normal" textLength="53.40" lengthAdjust="spacingAndGlyphs">100</text>
<text transform="translate(548.90 283.10) scale(0.2500)" font-size="34.40" fill="#333333" font-weight="normal" textLength="215.00" lengthAdjust="spacingAndGlyphs">Response (%)</text>
<text transform="translate(301.90 295.80) scale(0.2500)" font-size="34.40" fill="#333333" font-weight="normal" textLength="156.40" lengthAdjust="spacingAndGlyphs">Response</text>
<rect x="345.30" y="289.60" width="7.80" height="7.80" fill="#d95a7c" />
<text transform="translate(356.10 295.80) scale(0.2500)" font-size="34.40" fill="#333333" font-weight="normal" textLength="141.00" lengthAdjust="spacingAndGlyphs">Negative</text>
<rect x="405.80" y="289.60" width="7.80" height="7.80" fill="#e3df95" />
<text transform="translate(415.75 295.80) scale(0.2500)" font-size="34.40" fill="#333333" font-weight="normal" textLength="121.60" lengthAdjust="spacingAndGlyphs">Neutral</text>
<rect x="458.40" y="289.60" width="7.80" height="7.80" fill="#bcd7bb" />
<text transform="translate(468.90 295.80) scale(0.2500)" font-size="34.40" fill="#333333" font-weight="normal" textLength="126.60" lengthAdjust="spacingAndGlyphs">Positive</text>
<rect x="512.20" y="289.60" width="7.80" height="7.80" fill="#94b495" />
<text transform="translate(523.40 295.80) scale(0.2500)" font-size="34.40" fill="#333333" font-weight="normal" textLength="206.60" lengthAdjust="spacingAndGlyphs">Very positive</text>
</svg></body></html>
